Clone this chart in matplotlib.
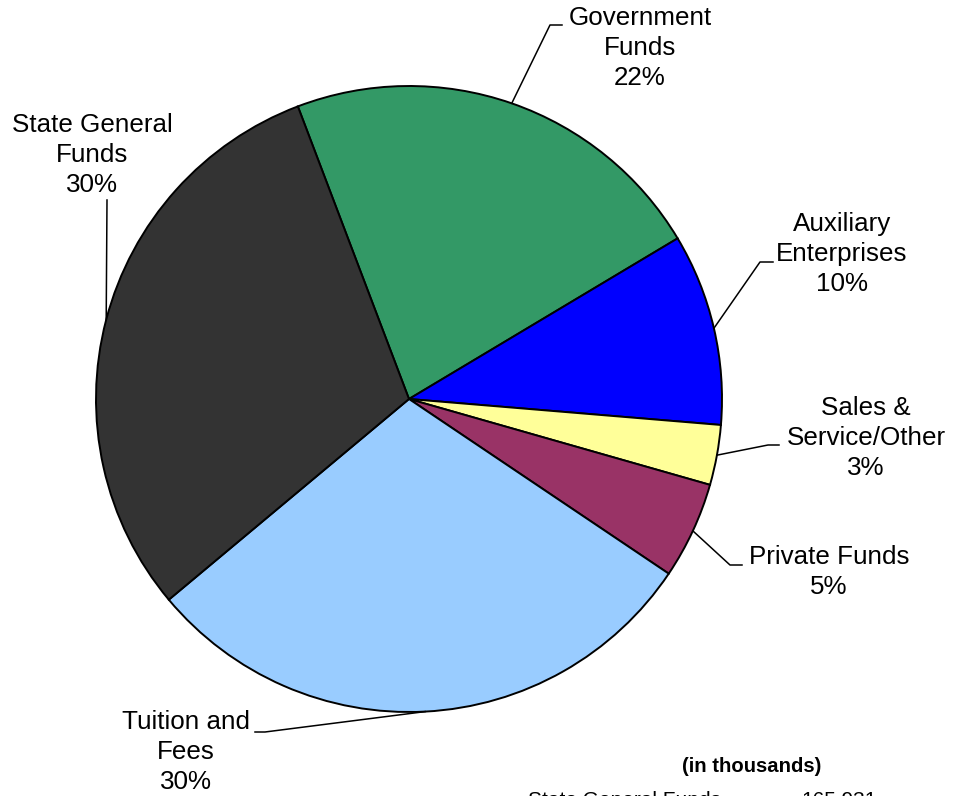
import numpy as np
import matplotlib
matplotlib.use('Agg')
import matplotlib.pyplot as plt

plt.rcParams['font.family'] = ['Liberation Sans', 'DejaVu Sans']

# shares (clockwise from Government Funds)
names = ['Government\nFunds', 'Auxiliary\nEnterprises', 'Sales &\nService/Other',
         'Private Funds', 'Tuition and\nFees', 'State General\nFunds']
shares = [22.2, 9.9, 3.1, 5.0, 29.5, 30.3]
colors = ['#339966', '#0000FF', '#FFFF99', '#993366', '#99CCFF', '#333333']

# layout in pixels from top-left
W, H = 955, 796
cx, cy, r = 409, 399, 313
text_pos = [(640, 48), (842, 254), (866, 438), (829, 572), (186, 752), (92, 155)]
elbows = [((550, 25), (562, 25)), ((760, 262), (773, 262)), ((768, 445), (779, 445)),
          ((730, 565), (742, 565)), ((265, 732), (255, 732)), ((107, 200), (107, 200))]

fig = plt.figure(figsize=(W / 100, H / 100), dpi=100)
ax = fig.add_axes([0, 0, 1, 1])

wedges, _ = ax.pie(shares, colors=colors, startangle=110.8, counterclock=False,
                   center=(cx, H - cy), radius=r,
                   wedgeprops=dict(edgecolor='black', linewidth=1.4))

for w, name, s, tp, (el, en) in zip(wedges, names, shares, text_pos, elbows):
    mid = np.deg2rad((w.theta1 + w.theta2) / 2.)
    x0 = cx + r * np.cos(mid)
    y0 = (H - cy) + r * np.sin(mid)
    ax.plot([x0, el[0], en[0]], [y0, H - el[1], H - en[1]], color='black', lw=1.1)
    ax.text(tp[0], H - tp[1], '%s\n%d%%' % (name, int(s + 0.5)), ha='center', va='center',
            multialignment='center', fontsize=18.7, linespacing=1.3)

ax.text(752, H - 767, '(in thousands)', ha='center', va='center', fontsize=14.6, fontweight='bold')
ax.text(528, H - 791, 'State General Funds', ha='left', va='top', fontsize=15)
ax.text(877, H - 791, '165,931', ha='right', va='top', fontsize=15)

ax.set_xlim(0, W)
ax.set_ylim(0, H)
ax.set_aspect('auto')
ax.axis('off')

fig.savefig('out.png', dpi=100)
